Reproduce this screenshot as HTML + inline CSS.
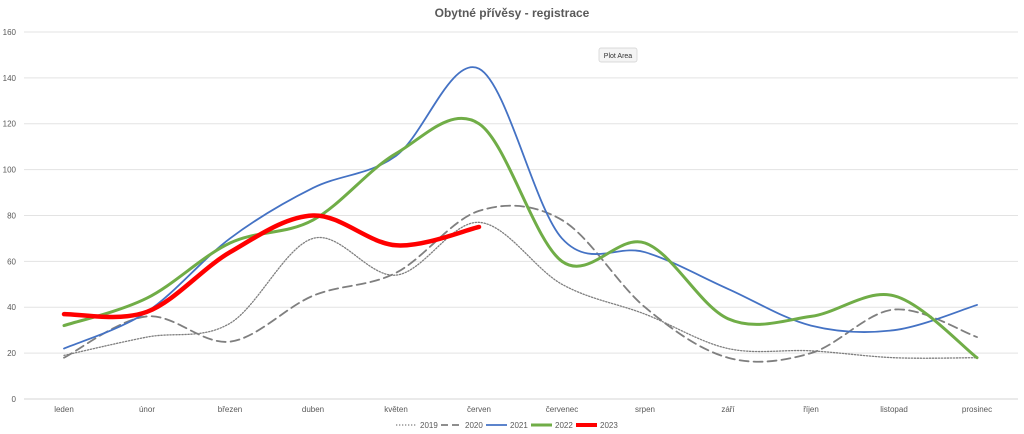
<!DOCTYPE html>
<html><head><meta charset="utf-8"><style>
html,body{margin:0;padding:0;background:#fff;}
svg{display:block;font-family:"Liberation Sans",sans-serif;}
</style></head><body>
<svg id="c" width="1024" height="434" viewBox="0 0 1024 434">
<text x="512" y="17" text-anchor="middle" font-size="12" font-weight="bold" fill="#595959">Obytné přívěsy - registrace</text>
<g id="grid" stroke="#e3e3e3" stroke-width="1"></g>
<g id="ylab" font-size="8" fill="#595959" text-anchor="end"></g>
<g id="xlab" font-size="8" fill="#595959" text-anchor="middle"></g>
<g id="series" fill="none" stroke-linecap="round" stroke-linejoin="round"></g>
<rect x="599" y="48" width="38" height="14" rx="2" fill="#f4f4f4" stroke="#d0d0d0" stroke-width="0.7"/>
<text x="618" y="58" text-anchor="middle" font-size="7" fill="#333">Plot Area</text>
<g font-size="8" fill="#595959">
<line x1="396" y1="425" x2="417" y2="425" stroke="#7f7f7f" stroke-width="1.3" stroke-dasharray="1.3,1.7"/>
<text x="420" y="428">2019</text>
<line x1="441" y1="425" x2="462" y2="425" stroke="#7f7f7f" stroke-width="1.8" stroke-dasharray="7,4"/>
<text x="465" y="428">2020</text>
<line x1="486" y1="425" x2="507" y2="425" stroke="#4472c4" stroke-width="1.8"/>
<text x="510" y="428">2021</text>
<line x1="531" y1="425" x2="552" y2="425" stroke="#70ad47" stroke-width="3"/>
<text x="555" y="428">2022</text>
<line x1="576" y1="425" x2="597" y2="425" stroke="#ff0000" stroke-width="4"/>
<text x="600" y="428">2023</text>
</g>
</svg>
<script>
var NS="http://www.w3.org/2000/svg";
function Y(v){return 399-v*2.294;}
function X(i){return 64+i*83.0;}
var g=document.getElementById("grid"),yl=document.getElementById("ylab"),xl=document.getElementById("xlab");
for(var v=0;v<=160;v+=20){
 var l=document.createElementNS(NS,"line");l.setAttribute("x1",24);l.setAttribute("x2",1018);
 l.setAttribute("y1",Y(v));l.setAttribute("y2",Y(v));if(v==0)l.setAttribute("stroke","#d4d4d4");g.appendChild(l);
 var t=document.createElementNS(NS,"text");t.setAttribute("x",16);t.setAttribute("y",Y(v)+3);t.textContent=v;yl.appendChild(t);
}
var m=["leden","únor","březen","duben","květen","červen","červenec","srpen","září","říjen","listopad","prosinec"];
m.forEach(function(s,i){var t=document.createElementNS(NS,"text");t.setAttribute("x",X(i));t.setAttribute("y",412);t.textContent=s;xl.appendChild(t);});
function path(d){
 var p=d.map(function(v,i){return [X(i),Y(v)];});
 var s="M"+p[0][0]+","+p[0][1];
 for(var i=0;i<p.length-1;i++){
  var p0=p[i-1]||p[i],p1=p[i],p2=p[i+1],p3=p[i+2]||p2;
  var k=1/6;
  s+=" C"+(p1[0]+(p2[0]-p0[0])*k)+","+(p1[1]+(p2[1]-p0[1])*k)+" "+(p2[0]-(p3[0]-p1[0])*k)+","+(p2[1]-(p3[1]-p1[1])*k)+" "+p2[0]+","+p2[1];
 }
 return s;
}
var S=[
 {d:[19,27,33,70,54,77,50,37,22,21,18,18],c:"#7f7f7f",w:1.3,da:"1.3,1.7"},
 {d:[18,36,25,45,55,82,78,40,18,20,39,27],c:"#7f7f7f",w:1.8,da:"9,5"},
 {d:[22,38,70,92,106,144,70,64,48,32,30,41],c:"#4472c4",w:1.8},
 {d:[32,44,68,78,107,120,60,68,35,36,45,18],c:"#70ad47",w:3},
 {d:[37,38,64,80,67,75],c:"#ff0000",w:4.5}
];
var sg=document.getElementById("series");
S.forEach(function(s){var e=document.createElementNS(NS,"path");e.setAttribute("d",path(s.d));e.setAttribute("stroke",s.c);e.setAttribute("stroke-width",s.w);if(s.da)e.setAttribute("stroke-dasharray",s.da);sg.appendChild(e);});
</script>
</body></html>
